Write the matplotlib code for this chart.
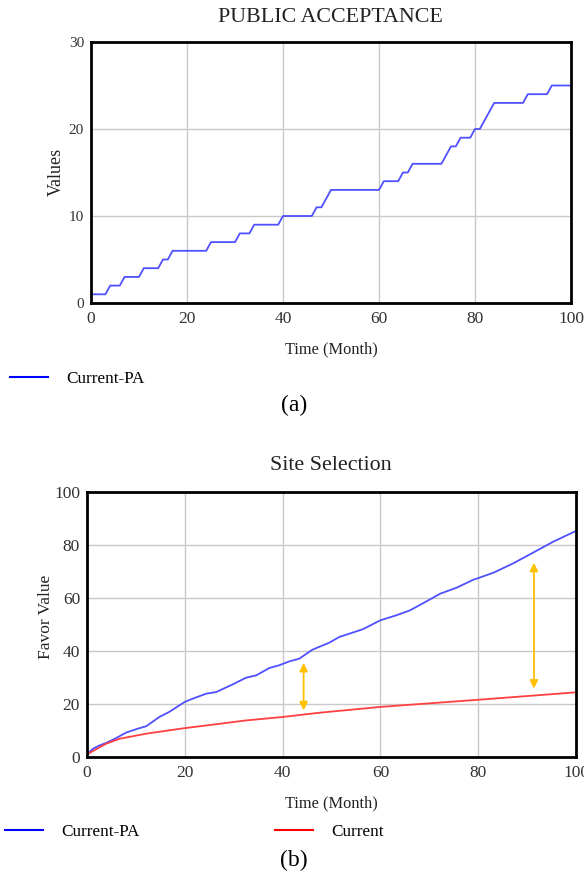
import numpy as np
import matplotlib
matplotlib.use('Agg')
from matplotlib import pyplot as plt
from matplotlib.lines import Line2D

plt.rcParams['font.family'] = ['Liberation Serif', 'DejaVu Serif']

# (a) public acceptance, vertices of the step line
pa_months = [0, 3, 4, 6, 7, 10, 11, 14, 15, 16, 17, 24, 25, 30, 31, 33, 34, 39, 40, 46,
             47, 48, 50, 60, 61, 64, 65, 66, 67, 73, 75, 76, 77, 79, 80, 81, 84, 90, 91,
             95, 96, 100]
pa_values = [1, 1, 2, 2, 3, 3, 4, 4, 5, 5, 6, 6, 7, 7, 8, 8, 9, 9, 10, 10,
             11, 11, 13, 13, 14, 14, 15, 15, 16, 16, 18, 18, 19, 19, 20, 20, 23, 23, 24,
             24, 25, 25]

# (b) site selection
pa_t = [0, 1.2, 2.6, 3.9, 5.3, 8, 10.4, 12.1, 14.8, 16.8, 20, 21.6, 24.4, 26.4, 29.8,
        32.5, 34.6, 37.3, 39.3, 41.4, 43.4, 46.1, 49.5, 51.6, 56.4, 60, 63.3, 66, 68.8,
        72.2, 75.6, 79, 80, 83.2, 87.3, 90, 92.7, 95.5, 100]
pa_fav = [1, 3.1, 4.4, 5.3, 6.5, 9.2, 10.7, 11.6, 15.1, 17, 20.8, 22, 23.9, 24.5, 27.4,
          29.9, 30.8, 33.6, 34.6, 36.1, 37.1, 40.5, 43.1, 45.3, 48.2, 51.6, 53.5, 55.3,
          58.1, 61.6, 63.9, 66.9, 67.5, 69.6, 73.2, 75.9, 78.6, 81.4, 85.3]
cur_t = [0, 3.9, 6.7, 12.1, 20, 25.7, 32.5, 40, 47.5, 60, 80, 100]
cur_fav = [1, 5, 6.9, 8.8, 10.9, 12.2, 13.8, 15.1, 16.7, 18.9, 21.6, 24.4]

# gap arrows (x, low, high)
gap_x = [44.3, 91.4]
gap_lo = [17.6, 25.8]
gap_hi = [35.5, 73.3]

W, H = 584, 877
fig = plt.figure(figsize=(W / 100, H / 100), dpi=100)

def px(x0, y0, x1, y1):
    return [x0 / W, 1 - y1 / H, (x1 - x0) / W, (y1 - y0) / H]

def style(ax, xt, yt, xs, ys):
    ax.set_xlim(0, 100)
    ax.set_xticks(xt)
    ax.set_yticks(yt)
    ax.grid(True, color='#c8c8c8', lw=1)
    ax.set_axisbelow(True)
    for s in ax.spines.values():
        s.set_linewidth(2)
        s.set_color('black')
    ax.tick_params(length=0, labelcolor='#333333')
    ax.tick_params(axis='x', pad=6, labelsize=xs)
    ax.tick_params(axis='y', pad=5, labelsize=ys)

ax1 = fig.add_axes(px(91, 42, 571, 303))
ax1.plot(pa_months, pa_values, color='#5050ff', lw=1.3)
ax1.set_ylim(0, 30)
style(ax1, [0, 20, 40, 60, 80, 100], [0, 10, 20, 30], 12.5, 11)

ax2 = fig.add_axes(px(87, 492, 576, 757))
ax2.plot(pa_t, pa_fav, color='#5050ff', lw=1.3)
ax2.plot(cur_t, cur_fav, color='#ff4040', lw=1.3)
ax2.set_ylim(0, 100)
style(ax2, [0, 20, 40, 60, 80, 100], [0, 20, 40, 60, 80, 100], 12.5, 12.5)
for x, lo, hi in zip(gap_x, gap_lo, gap_hi):
    ax2.annotate('', xy=(x, hi), xytext=(x, lo),
                 arrowprops=dict(arrowstyle='<|-|>', color='#ffc000', lw=1.3,
                                 mutation_scale=12, shrinkA=0, shrinkB=0))

def ftext(x, y, s, **kw):
    fig.text(x / W, 1 - y / H, s, ha='center', va='center', **kw)

ftext(330, 18, 'PUBLIC ACCEPTANCE', fontsize=15.8, color='#222222')
ftext(331, 466, 'Site Selection', fontsize=15.8, color='#222222')
ftext(56, 172, 'Values', fontsize=13, rotation=90, color='#222222')
ftext(46, 617, 'Favor Value', fontsize=12.5, rotation=90, color='#222222')
ftext(331, 349, 'Time (Month)', fontsize=11.8, color='#222222')
ftext(331, 803, 'Time (Month)', fontsize=11.8, color='#222222')
ftext(294, 405, '(a)', fontsize=17)
ftext(294, 860, '(b)', fontsize=17)

def legend_at(x, y, color, label):
    fig.legend(handles=[Line2D([], [], color=color, lw=1.5)], labels=[label],
               loc='center left', bbox_to_anchor=(x / W, 1 - y / H), frameon=False,
               fontsize=12.3, handlelength=2.22, handletextpad=1.05,
               borderpad=0, borderaxespad=0)

legend_at(10, 379, 'blue', 'Current-PA')
legend_at(5, 832, 'blue', 'Current-PA')
legend_at(275, 832, 'red', 'Current')

fig.savefig('out.png', dpi=100)
